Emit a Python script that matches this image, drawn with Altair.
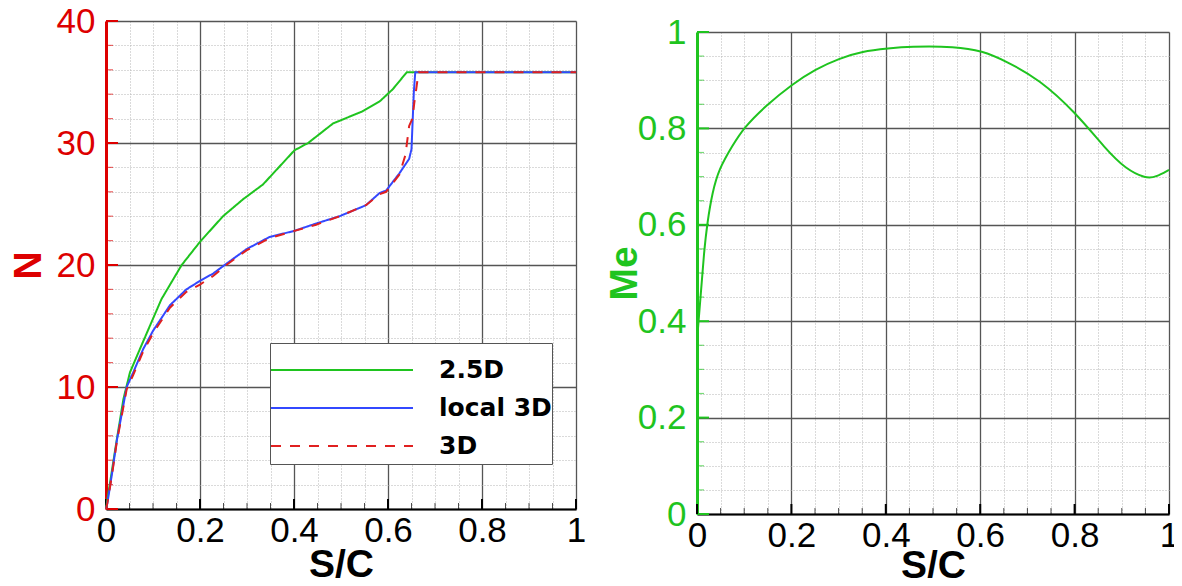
import altair as alt
import pandas as pd

FONT = "Liberation Sans"
RED = "#dd0000"
GREEN = "#1fc41f"
BLUE = "#3348ff"
LINE_RED = "#e02020"

# ---------------- data ----------------
SERIES = ["2.5D", "local 3D", "3D"]

sc_25d = [0, 0.003, 0.012, 0.023, 0.037, 0.051, 0.072, 0.10, 0.118, 0.161, 0.2, 0.249,
          0.292, 0.334, 0.401, 0.43, 0.483, 0.546, 0.582, 0.61, 0.64, 0.655, 1.0]
n_25d = [0, 0.8, 3.0, 5.7, 9.0, 11.2, 13.1, 15.6, 17.2, 20.0, 21.9, 24.0,
         25.4, 26.6, 29.4, 30.0, 31.6, 32.6, 33.4, 34.4, 35.8, 35.8, 35.8]

sc_local = [0, 0.003, 0.012, 0.023, 0.044, 0.058, 0.079, 0.10, 0.136, 0.171, 0.2, 0.228,
            0.256, 0.299, 0.348, 0.401, 0.447, 0.497, 0.553, 0.582, 0.596, 0.624, 0.645,
            0.650, 0.652, 0.655, 0.658, 1.0]
n_local = [0, 0.5, 2.7, 5.6, 10.0, 11.2, 13.1, 14.6, 16.7, 18.0, 18.7, 19.3,
           20.1, 21.3, 22.3, 22.8, 23.4, 24.0, 24.9, 25.9, 26.1, 27.5, 28.7,
           29.5, 31.4, 34.2, 35.8, 35.8]

sc_3d = [0, 0.003, 0.012, 0.023, 0.044, 0.058, 0.079, 0.10, 0.136, 0.171, 0.2, 0.228,
         0.256, 0.299, 0.348, 0.401, 0.447, 0.497, 0.553, 0.582, 0.596, 0.624, 0.637,
         0.645, 0.652, 0.656, 0.66, 0.665, 1.0]
n_3d = [0, 0.5, 2.6, 5.5, 9.8, 11.0, 12.9, 14.4, 16.5, 17.8, 18.4, 19.1,
        20.0, 21.2, 22.2, 22.8, 23.3, 24.0, 24.9, 25.8, 26.0, 27.4, 29.0,
        31.4, 32.0, 33.3, 34.4, 35.8, 35.8]

sc_me = [0, 0.0078, 0.0148, 0.0219, 0.0325, 0.0466, 0.0749, 0.0996, 0.1455, 0.202, 0.251,
         0.301, 0.35, 0.407, 0.449, 0.548, 0.604, 0.654, 0.725, 0.802, 0.866, 0.908,
         0.951, 0.972, 1.0]
me = [0.36, 0.453, 0.543, 0.605, 0.667, 0.716, 0.764, 0.802, 0.847, 0.892, 0.923,
      0.945, 0.960, 0.966, 0.970, 0.970, 0.961, 0.940, 0.902, 0.833, 0.757, 0.716,
      0.696, 0.699, 0.714]

# tick values
X_TICKS = [0, 0.05, 0.1, 0.15, 0.2, 0.25, 0.3, 0.35, 0.4, 0.45, 0.5,
           0.55, 0.6, 0.65, 0.7, 0.75, 0.8, 0.85, 0.9, 0.95, 1.0]
N_TICKS = [0, 2, 4, 6, 8, 10, 12, 14, 16, 18, 20, 22, 24, 26, 28, 30, 32, 34, 36, 38, 40]
ME_TICKS = X_TICKS

# ---------------- tables ----------------
rows = []
for name, xs, ys in [("2.5D", sc_25d, n_25d), ("local 3D", sc_local, n_local), ("3D", sc_3d, n_3d)]:
    for i, (a, b) in enumerate(zip(xs, ys)):
        rows.append({"x": a, "y": b, "series": name, "order": i})
df_n = pd.DataFrame(rows)
df_me = pd.DataFrame({"x": sc_me, "y": me, "order": list(range(len(me)))})
df_xt = pd.DataFrame({"x": X_TICKS})
df_nt = pd.DataFrame({"y": N_TICKS})
df_mt = pd.DataFrame({"y": ME_TICKS})

MAJ_X = "round(datum.value*20)%4==0"


def cond(test, a, b):
    return {"condition": {"test": test, "value": a}, "value": b}


def x_axis(title_pad):
    return alt.Axis(
        values=X_TICKS, format="~g", labelExpr=f"{MAJ_X} ? datum.label : ''",
        labelFont=FONT, labelFontSize=35, labelColor="black", labelPadding=4,
        labelFlush=False, labelOverlap=False, ticks=False,
        domainColor="black", domainWidth=2,
        grid=True,
        gridColor=cond(MAJ_X, "#555555", "#b4b4b4"),
        gridDash=cond(MAJ_X, [], [1, 2]),
        gridWidth=cond(MAJ_X, 1.3, 1),
        title="S/C", titleFont=FONT, titleFontSize=39, titleFontWeight="bold",
        titleColor="black", titlePadding=title_pad,
    )


def y_axis(values, major_test, color, title, title_pad):
    return alt.Axis(
        values=values, format="~g", labelExpr=f"{major_test} ? datum.label : ''",
        labelFont=FONT, labelFontSize=35, labelColor=color, labelPadding=11,
        labelOverlap=False, labelFlush=False, ticks=False,
        domainColor=color, domainWidth=3,
        grid=True,
        gridColor=cond(major_test, "#555555", "#b4b4b4"),
        gridDash=cond(major_test, [], [1, 2]),
        gridWidth=cond(major_test, 1.3, 1),
        title=title, titleFont=FONT, titleFontSize=39, titleFontWeight="bold",
        titleColor=color, titleBaseline="alphabetic", titlePadding=title_pad,
    )


def panel(line_layer_fn, yscale, yaxis, xaxis, tick_df, major_test_field, axis_color, W, H):
    xs = alt.Scale(domain=[0, 1], nice=False, zero=False)
    X = lambda: alt.X("x:Q", scale=xs, axis=xaxis)
    Y = lambda: alt.Y("y:Q", scale=yscale, axis=yaxis)
    # inward ticks on left axis
    ymaj = alt.Chart(tick_df).transform_filter(major_test_field).mark_rule(
        color=axis_color, strokeWidth=2).encode(y=Y(), x=alt.value(0), x2=alt.value(12))
    ymin = alt.Chart(tick_df).transform_filter(f"!({major_test_field})").mark_rule(
        color=axis_color, strokeWidth=1.2, opacity=0.6).encode(y=Y(), x=alt.value(0), x2=alt.value(7))
    # inward ticks on bottom axis
    xmaj = alt.Chart(df_xt).transform_filter("round(datum.x*20)%4==0").mark_rule(
        color="black", strokeWidth=2).encode(x=X(), y=alt.value(H), y2=alt.value(H - 10))
    xmin = alt.Chart(df_xt).transform_filter("round(datum.x*20)%4!=0").mark_rule(
        color="black", strokeWidth=1, opacity=0.7).encode(x=X(), y=alt.value(H), y2=alt.value(H - 6))
    lines = line_layer_fn(X, Y)
    return alt.layer(ymaj, ymin, xmaj, xmin, lines).properties(width=W, height=H)


# left panel
def left_lines(X, Y):
    leg = alt.Legend(
        orient="none", legendX=164, legendY=322, title=" ", titleFontSize=5, titlePadding=4,
        labelFont="DejaVu Sans", labelFontSize=25, labelFontWeight="bold", labelColor="black",
        symbolType="stroke", symbolSize=142 * 142, symbolStrokeWidth=2,
        clipHeight=36, rowPadding=2,
        labelOffset=25, padding=0,
        fillColor="white", strokeColor="#555555",
    )
    return alt.Chart(df_n).mark_line(strokeWidth=2).encode(
        x=X(), y=Y(),
        color=alt.Color("series:N", scale=alt.Scale(domain=SERIES, range=[GREEN, BLUE, LINE_RED]),
                        legend=leg, title=" "),
        strokeDash=alt.StrokeDash("series:N", scale=alt.Scale(domain=SERIES, range=[[1, 0], [1, 0], [10, 9]]),
                                  legend=leg, title=" "),
        order="order:Q",
        detail="series:N",
    )


ys_n = alt.Scale(domain=[0, 40], nice=False, zero=False)
left = panel(left_lines, ys_n,
             y_axis(N_TICKS, "datum.value%10==0", RED, "N", 16), x_axis(-3),
             df_nt, "datum.y%10==0", RED, 470, 488)


def right_lines(X, Y):
    return alt.Chart(df_me).mark_line(strokeWidth=2, color=GREEN, interpolate="basis").encode(
        x=X(), y=Y(), order="order:Q")


ys_me = alt.Scale(domain=[0, 1], nice=False, zero=False)
right = panel(right_lines, ys_me,
              y_axis(ME_TICKS, MAJ_X, GREEN, "Me", 1), x_axis(-7),
              df_mt, "round(datum.y*20)%4==0", GREEN, 472, 482)

# invisible spacer that pushes the right panel down a little
spacer = alt.Chart(pd.DataFrame({"a": [0]})).mark_point(opacity=0, size=0).encode(
    x=alt.value(0), y=alt.value(0)).properties(width=472, height=1,
                                               view=alt.ViewConfig(stroke="transparent"))

right_col = alt.vconcat(spacer, right, spacing=10, bounds="flush")

chart = alt.hconcat(left, right_col, spacing=121, bounds="flush").configure_view(
    stroke="black", strokeWidth=2).configure(background="white")

try:
    chart = chart.properties(padding={"left": 0, "top": -5, "right": -6, "bottom": -8})
    chart.to_dict()
except Exception:
    chart = chart.properties(padding={"left": 0, "top": 0, "right": 0, "bottom": 0})

chart.save("out.html", embed_options={"renderer": "svg", "actions": False})
